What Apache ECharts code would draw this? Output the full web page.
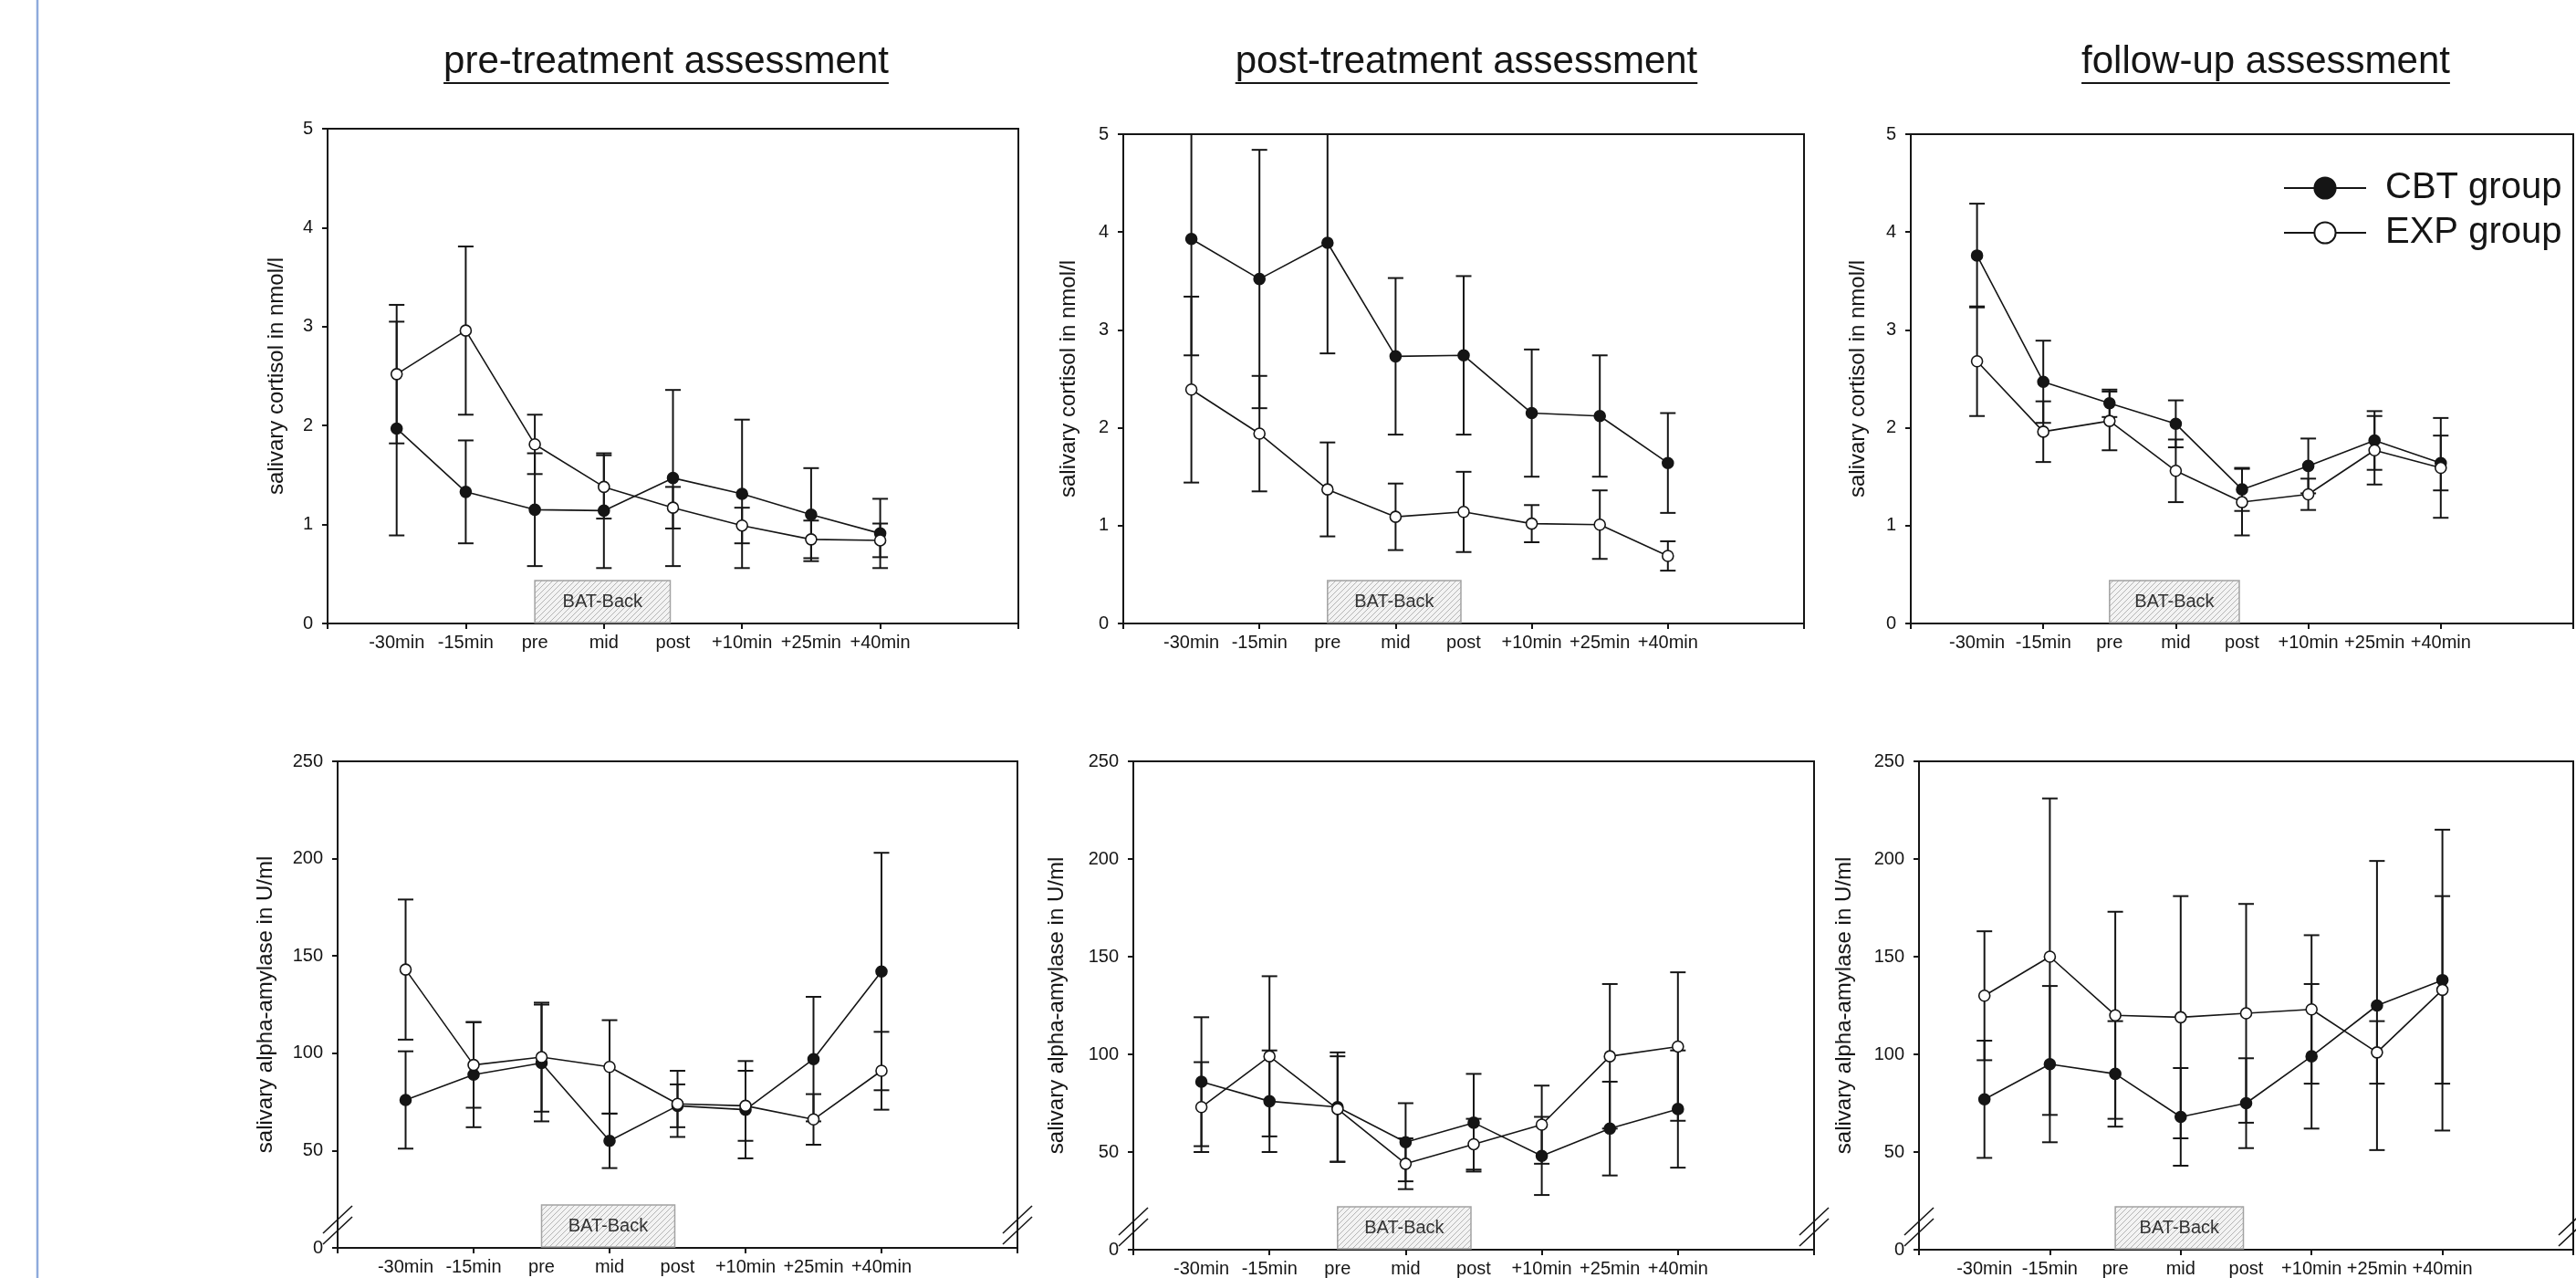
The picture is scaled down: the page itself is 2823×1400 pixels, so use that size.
<!DOCTYPE html>
<html><head><meta charset="utf-8">
<script src="https://cdn.jsdelivr.net/npm/echarts@6/dist/echarts.min.js"></script>
<style>html,body{margin:0;padding:0;background:#fff;}#main{width:2823px;height:1400px;}</style>
</head><body><div id="main"></div>
<script>
// ---------- data ----------
const timeLabels = ['-30min', '-15min', 'pre', 'mid', 'post', '+10min', '+25min', '+40min'];
const panelTitles = ['pre-treatment assessment', 'post-treatment assessment', 'follow-up assessment'];
const seriesNames = ['CBT group', 'EXP group'];
const cortisolName = 'salivary cortisol in nmol/l';
const amylaseName = 'salivary alpha-amylase in U/ml';
const batLabel = 'BAT-Back';
const batSpan = [3, 5]; // from "pre" to "post"

// salivary cortisol (nmol/l): means and error bars
const cortPreCBT = [1.97, 1.33, 1.15, 1.14, 1.47, 1.31, 1.10, 0.91];
const cortPreCBTErr = [1.08, 0.52, 0.57, 0.58, 0.89, 0.75, 0.47, 0.35];
const cortPreEXP = [2.52, 2.96, 1.81, 1.38, 1.17, 0.99, 0.85, 0.84];
const cortPreEXPErr = [0.70, 0.85, 0.30, 0.32, 0.21, 0.18, 0.19, 0.17];

const cortPostCBT = [3.93, 3.52, 3.89, 2.73, 2.74, 2.15, 2.12, 1.64];
const cortPostCBTErr = [1.19, 1.32, 1.13, 0.80, 0.81, 0.65, 0.62, 0.51];
const cortPostEXP = [2.39, 1.94, 1.37, 1.09, 1.14, 1.02, 1.01, 0.69];
const cortPostEXPErr = [0.95, 0.59, 0.48, 0.34, 0.41, 0.19, 0.35, 0.15];

const cortFuCBT = [3.76, 2.47, 2.25, 2.04, 1.37, 1.61, 1.87, 1.64];
const cortFuCBTErr = [0.53, 0.42, 0.14, 0.24, 0.22, 0.28, 0.30, 0.28];
const cortFuEXP = [2.68, 1.96, 2.07, 1.56, 1.24, 1.32, 1.77, 1.59];
const cortFuEXPErr = [0.56, 0.31, 0.30, 0.32, 0.34, 0.16, 0.35, 0.51];

// salivary alpha-amylase (U/ml): means and error bars
const amyPreCBT = [76, 89, 95, 55, 73, 71, 97, 142];
const amyPreCBTErr = [25, 27, 30, 14, 11, 25, 32, 61];
const amyPreEXP = [143, 94, 98, 93, 74, 73, 66, 91];
const amyPreEXPErr = [36, 22, 28, 24, 17, 18, 13, 20];

const amyPostCBT = [86, 76, 73, 55, 65, 48, 62, 72];
const amyPostCBTErr = [33, 26, 28, 20, 25, 20, 24, 30];
const amyPostEXP = [73, 99, 72, 44, 54, 64, 99, 104];
const amyPostEXPErr = [23, 41, 27, 13, 13, 20, 37, 38];

const amyFuCBT = [77, 95, 90, 68, 75, 99, 125, 138];
const amyFuCBTErr = [30, 40, 27, 25, 23, 37, 74, 77];
const amyFuEXP = [130, 150, 120, 119, 121, 123, 101, 133];
const amyFuEXPErr = [33, 81, 53, 62, 56, 38, 16, 48];

// ---------- layout / style ----------
const FONT = '"Liberation Sans", Arial, sans-serif';
const INK = '#151515';
const X_MAX = 10;

const panels = [
  {grid: {left: 359, top: 141, width: 757, height: 542}, mean: [cortPreCBT, cortPreEXP], err: [cortPreCBTErr, cortPreEXPErr], yMax: 5, yInt: 1, yName: cortisolName, nameGap: 44, brk: false},
  {grid: {left: 1231, top: 147, width: 746, height: 536}, mean: [cortPostCBT, cortPostEXP], err: [cortPostCBTErr, cortPostEXPErr], yMax: 5, yInt: 1, yName: cortisolName, nameGap: 48, brk: false},
  {grid: {left: 2094, top: 147, width: 746, height: 536}, mean: [cortFuCBT, cortFuEXP], err: [cortFuCBTErr, cortFuEXPErr], yMax: 5, yInt: 1, yName: cortisolName, nameGap: 46, brk: false},
  {grid: {left: 370, top: 834, width: 745, height: 533}, mean: [amyPreCBT, amyPreEXP], err: [amyPreCBTErr, amyPreEXPErr], yMax: 250, yInt: 50, yName: amylaseName, nameGap: 67, brk: true},
  {grid: {left: 1242, top: 834, width: 746, height: 535}, mean: [amyPostCBT, amyPostEXP], err: [amyPostCBTErr, amyPostEXPErr], yMax: 250, yInt: 50, yName: amylaseName, nameGap: 72, brk: true},
  {grid: {left: 2103, top: 834, width: 746, height: 535}, mean: [amyFuCBT, amyFuEXP], err: [amyFuCBTErr, amyFuEXPErr], yMax: 250, yInt: 50, yName: amylaseName, nameGap: 70, brk: true}
];

function makeHatch() {
  const c = document.createElement('canvas');
  c.width = 6; c.height = 6;
  const g = c.getContext('2d');
  g.fillStyle = '#f3f3f3'; g.fillRect(0, 0, 6, 6);
  g.strokeStyle = '#b4b4b4'; g.lineWidth = 1;
  g.beginPath();
  g.moveTo(-1, 7); g.lineTo(7, -1);
  g.moveTo(-4, 4); g.lineTo(4, -4);
  g.moveTo(2, 10); g.lineTo(10, 2);
  g.stroke();
  return c;
}
const hatchCanvas = makeHatch();

function boxRender(panel) {
  return function (params, api) {
    const a = api.coord([api.value(0), 0]);
    const b = api.coord([api.value(1), 0]);
    const h = 47;
    const children = [{
      type: 'rect',
      shape: {x: a[0], y: a[1] - h, width: b[0] - a[0] - 3, height: h - 1},
      style: {fill: {image: hatchCanvas, repeat: 'repeat'}, stroke: '#a3a3a3', lineWidth: 1.5},
      textContent: {style: {text: batLabel, fontSize: 20, fontFamily: FONT, fill: '#333'}},
      textConfig: {position: 'inside'}
    }];
    if (panel.brk) {
      const l = api.coord([0, 0]);
      const r = api.coord([X_MAX, 0]);
      [l, r].forEach(function (p) {
        [-31, -19].forEach(function (dy) {
          children.push({type: 'line', shape: {x1: p[0] - 16, y1: p[1] + dy + 15, x2: p[0] + 16, y2: p[1] + dy - 15},
            style: {stroke: INK, lineWidth: 1.6}});
        });
      });
    }
    return {type: 'group', children: children};
  };
}

function errRender(yMax) {
  return function (params, api) {
    const x = api.value(0), m = api.value(1), e = api.value(2);
    const hiV = m + e, loV = m - e;
    const top = api.coord([x, Math.min(hiV, yMax)]);
    const bot = api.coord([x, Math.max(loV, 0)]);
    const cw = 8.5;
    const st = {stroke: INK, lineWidth: 2};
    const ch = [{type: 'line', shape: {x1: top[0], y1: top[1], x2: bot[0], y2: bot[1]}, style: st}];
    if (hiV <= yMax) ch.push({type: 'line', shape: {x1: top[0] - cw, y1: top[1], x2: top[0] + cw, y2: top[1]}, style: st});
    ch.push({type: 'line', shape: {x1: bot[0] - cw, y1: bot[1], x2: bot[0] + cw, y2: bot[1]}, style: st});
    return {type: 'group', children: ch};
  };
}

const option = {
  animation: false,
  backgroundColor: '#fff',
  grid: [], xAxis: [], yAxis: [], series: [],
  legend: {
    data: seriesNames, orient: 'vertical', left: 2497, top: 181,
    itemWidth: 90, itemHeight: 29, itemGap: 9, selectedMode: false,
    textStyle: {fontSize: 40, fontFamily: FONT, color: INK, padding: [0, 0, 0, 16]}
  },
  graphic: []
};

panels.forEach(function (p, i) {
  option.grid.push(Object.assign({show: true, borderColor: INK, borderWidth: 2, backgroundColor: 'transparent', containLabel: false}, p.grid));
  // label axis (time points at 1..8)
  option.xAxis.push({
    type: 'value', gridIndex: i, position: 'bottom', min: 0, max: X_MAX, interval: 1,
    axisLine: {show: false}, axisTick: {show: false}, splitLine: {show: false},
    axisLabel: {fontSize: 20, fontFamily: FONT, color: INK, margin: 11,
      formatter: function (v) { return timeLabels[v - 1] || ''; }}
  });
  // tick axis
  option.xAxis.push({
    type: 'value', gridIndex: i, position: 'bottom', min: 0, max: X_MAX, interval: 2,
    axisLine: {show: true, onZero: false, lineStyle: {color: INK, width: 2}},
    axisTick: {show: true, inside: false, length: 6, lineStyle: {color: INK, width: 2}},
    axisLabel: {show: false}, splitLine: {show: false}
  });
  option.yAxis.push({
    type: 'value', gridIndex: i, position: 'left', min: 0, max: p.yMax, interval: p.yInt,
    axisLine: {show: true, onZero: false, lineStyle: {color: INK, width: 2}},
    axisTick: {show: true, inside: false, length: 6, lineStyle: {color: INK, width: 2}},
    axisLabel: {fontSize: 20, fontFamily: FONT, color: INK, margin: 16},
    splitLine: {show: false},
    name: p.yName, nameLocation: 'middle', nameGap: p.nameGap,
    nameTextStyle: {fontSize: 24, fontFamily: FONT, color: INK}
  });
  option.series.push({
    type: 'custom', xAxisIndex: 2 * i, yAxisIndex: i, silent: true, z: 1,
    renderItem: boxRender(p), data: [batSpan], encode: {x: [0, 1]}
  });
  [0, 1].forEach(function (g) {
    option.series.push({
      type: 'custom', xAxisIndex: 2 * i, yAxisIndex: i, silent: true, z: 3,
      renderItem: errRender(p.yMax),
      encode: {x: 0, y: 1},
      data: p.mean[g].map(function (m, k) { return [k + 1, m, p.err[g][k]]; })
    });
  });
  [0, 1].forEach(function (g) {
    option.series.push({
      type: 'line', name: seriesNames[g], xAxisIndex: 2 * i, yAxisIndex: i, z: 5,
      symbol: 'circle', symbolSize: 12, showSymbol: true,
      lineStyle: {color: INK, width: 1.6},
      itemStyle: {color: g === 0 ? INK : '#ffffff', borderColor: INK, borderWidth: 1.6},
      emphasis: {disabled: true}, silent: true,
      data: p.mean[g].map(function (m, k) { return [k + 1, m]; })
    });
  });
});

// titles with underline, side rule
const titleFontSize = 42;
const titleCenters = [730, 1607, 2483];
const mctx = document.createElement('canvas').getContext('2d');
mctx.font = titleFontSize + 'px "Liberation Sans", Arial, sans-serif';
option.graphic.push({type: 'line', silent: true, shape: {x1: 41, y1: 0, x2: 41, y2: 1400}, style: {stroke: '#8eaadc', lineWidth: 2.5}});
panelTitles.forEach(function (t, k) {
  const w = mctx.measureText(t).width;
  option.graphic.push({
    type: 'text', silent: true, x: titleCenters[k], y: 68,
    style: {text: t, fontSize: titleFontSize, fontFamily: FONT, fill: INK,
      align: 'center', verticalAlign: 'middle', textAlign: 'center', textVerticalAlign: 'middle'}
  });
  option.graphic.push({
    type: 'line', silent: true,
    shape: {x1: titleCenters[k] - w / 2, y1: 91, x2: titleCenters[k] + w / 2, y2: 91},
    style: {stroke: INK, lineWidth: 2}
  });
});

const chart = echarts.init(document.getElementById('main'), null, {renderer: 'canvas'});
chart.setOption(option);
</script>
</body></html>
